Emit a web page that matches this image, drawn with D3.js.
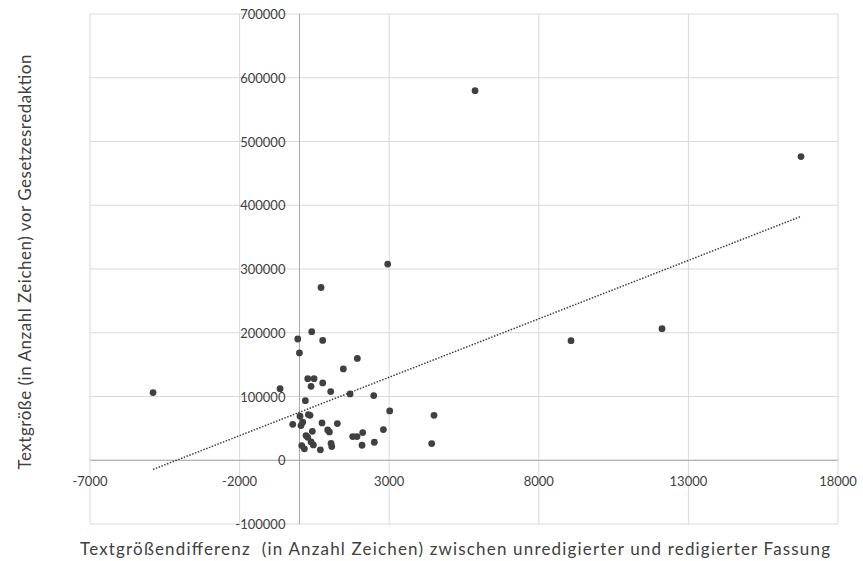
<!DOCTYPE html>
<html>
<head>
<meta charset="utf-8">
<script src="https://cdn.jsdelivr.net/npm/d3@7"></script>
<style>
  body { margin: 0; background: #fff; }
  svg { font-family: Lato, "Liberation Sans", sans-serif; }
</style>
</head>
<body>
<div id="chart"></div>
<script>
// Textgrößendifferenz (x) und Textgröße vor Gesetzesredaktion (y)
const xDiff = [
  -4893, -648, -224, -57, 0, 20, 53, 77, 110, 165, 198, 220, 277, 277, 298, 354,
  388, 388, 411, 431, 465, 488, 700, 722, 755, 778, 778, 945, 1000, 1045, 1056,
  1080, 1267, 1467, 1692, 1780, 1925, 1935, 2092, 2115, 2483, 2503, 2805, 2950,
  3017, 4420, 4498, 5869, 9077, 12118, 16763
];
const ySize = [
  106100, 112300, 56400, 190200, 168300, 69000, 54400, 23000, 59600, 17900, 93500,
  38700, 128000, 36000, 71600, 70500, 116000, 28800, 201700, 45400, 24100, 128000,
  16300, 271000, 58600, 188000, 121300, 47600, 44500, 107700, 26600, 21500, 57500,
  143200, 104000, 37100, 37100, 159800, 23500, 43400, 101400, 28200, 48100, 307800,
  77400, 26200, 70500, 579800, 187600, 206400, 476400
];
const xTicks = [-7000, -2000, 3000, 8000, 13000, 18000];
const yTicks = [-100000, 0, 100000, 200000, 300000, 400000, 500000, 600000, 700000];
const xTitle = "Textgrößendifferenz  (in Anzahl Zeichen) zwischen unredigierter und redigierter Fassung";
const yTitle = "Textgröße (in Anzahl Zeichen) vor Gesetzesredaktion";

const width = 863, height = 561;
const margin = { top: 14, right: 25, bottom: 37, left: 90 };

const svg = d3.select("#chart").append("svg")
  .attr("width", width)
  .attr("height", height);

const x = d3.scaleLinear().domain([-7000, 18000]).range([margin.left, width - margin.right]);
const y = d3.scaleLinear().domain([-100000, 700000]).range([height - margin.bottom, margin.top]);

// gridlines
svg.append("g").selectAll("line").data(xTicks).enter().append("line")
  .attr("x1", d => x(d)).attr("x2", d => x(d))
  .attr("y1", y(700000)).attr("y2", y(-100000))
  .attr("stroke", "#d9d9d9").attr("stroke-width", 1);
svg.append("g").selectAll("line").data(yTicks).enter().append("line")
  .attr("x1", x(-7000)).attr("x2", x(18000))
  .attr("y1", d => y(d)).attr("y2", d => y(d))
  .attr("stroke", "#d9d9d9").attr("stroke-width", 1);

// axis lines through zero
svg.append("line")
  .attr("x1", x(0)).attr("x2", x(0)).attr("y1", y(700000)).attr("y2", y(-100000))
  .attr("stroke", "#a6a6a6").attr("stroke-width", 1);
svg.append("line")
  .attr("x1", x(-7000)).attr("x2", x(18000)).attr("y1", y(0)).attr("y2", y(0))
  .attr("stroke", "#a6a6a6").attr("stroke-width", 1);

// tick labels
svg.append("g").selectAll("text").data(yTicks).enter().append("text")
  .attr("x", x(0) - 14)
  .attr("y", d => y(d) + 5)
  .attr("text-anchor", "end")
  .style("font-size", "13px")
  .style("fill", "#404040")
  .text(d => d);
svg.append("g").selectAll("text").data(xTicks).enter().append("text")
  .attr("x", d => x(d))
  .attr("y", y(0) + 26)
  .attr("text-anchor", "middle")
  .style("font-size", "13px")
  .style("fill", "#404040")
  .text(d => d);

// linear trendline (least squares)
const n = xDiff.length;
const mx = d3.mean(xDiff), my = d3.mean(ySize);
let sxy = 0, sxx = 0;
for (let i = 0; i < n; i++) {
  sxy += (xDiff[i] - mx) * (ySize[i] - my);
  sxx += (xDiff[i] - mx) * (xDiff[i] - mx);
}
const slope = sxy / sxx;
const intercept = my - slope * mx;
const [x0, x1] = d3.extent(xDiff);
svg.append("line")
  .attr("x1", x(x0)).attr("y1", y(intercept + slope * x0))
  .attr("x2", x(x1)).attr("y2", y(intercept + slope * x1))
  .attr("stroke", "#404040")
  .attr("stroke-width", 1.5)
  .attr("stroke-dasharray", "1.5,1.5");

// points
svg.append("g").selectAll("circle").data(xDiff).enter().append("circle")
  .attr("cx", d => x(d))
  .attr("cy", (_, i) => y(ySize[i]))
  .attr("r", 3.4)
  .attr("fill", "#404040");

// axis titles
svg.append("text")
  .attr("x", 455).attr("y", 555)
  .attr("text-anchor", "middle")
  .attr("textLength", 750)
  .attr("lengthAdjust", "spacing")
  .style("font-size", "17px")
  .style("fill", "#404040")
  .style("white-space", "pre")
  .text(xTitle);
svg.append("text")
  .attr("transform", "translate(31,262) rotate(-90)")
  .attr("text-anchor", "middle")
  .attr("textLength", 415)
  .attr("lengthAdjust", "spacing")
  .style("font-size", "17px")
  .style("fill", "#404040")
  .text(yTitle);
</script>
</body>
</html>
